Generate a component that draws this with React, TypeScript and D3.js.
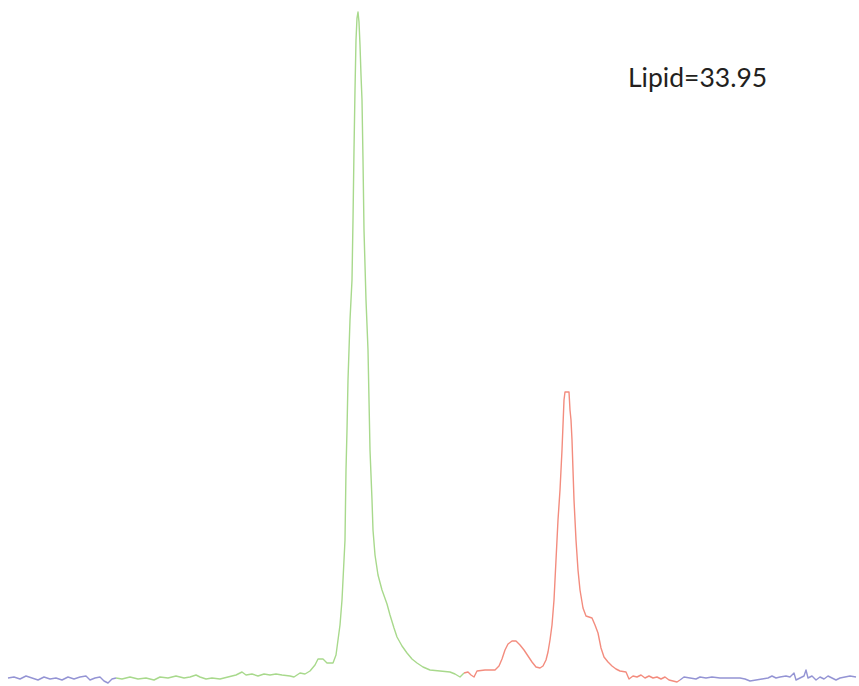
import React from "react";
import * as d3 from "d3";

// Spectrum segments: [channel, intensity]
const blueLeft: [number, number][] = [
  [8, 2], [14, 3], [20, 1], [26, 4], [32, 2], [38, 0], [44, 3], [50, 1], [56, 2], [62, 0],
  [68, 3], [74, 1], [80, 3], [86, 4], [90, 0], [95, 2], [100, 3], [104, -1], [108, -3], [112, 1], [116, 2],
];
const greenPeak: [number, number][] = [
  [116, 2], [122, 1], [130, 3], [138, 1], [146, 2], [154, 0], [160, 3], [168, 2], [176, 4], [184, 2],
  [190, 3], [196, 5], [200, 3], [206, 1], [212, 2], [220, 1], [228, 3], [236, 5], [242, 8], [246, 5],
  [252, 6], [258, 4], [264, 6], [270, 5], [276, 6], [282, 5], [290, 4], [294, 3], [300, 7], [305, 6],
  [310, 9], [315, 15], [318, 21], [323, 21], [327, 17], [333, 17], [336, 25], [338, 40], [340, 55],
  [342, 80], [344, 120], [345, 140], [346, 210], [347, 250], [348, 300], [350, 360], [352, 400],
  [353, 460], [354, 530], [355, 590], [356, 640], [357, 662], [358, 668], [359, 658], [360, 635],
  [361, 605], [362, 580], [363, 520], [364, 450], [366, 380], [368, 330], [369, 280], [370, 230],
  [372, 180], [373, 150], [375, 125], [378, 105], [382, 90], [387, 76], [390, 65], [394, 52],
  [397, 43], [402, 34], [407, 27], [412, 21], [417, 17], [423, 13], [430, 10], [440, 9], [450, 8],
  [455, 6], [460, 3], [464, 7],
];
const redPeaks: [number, number][] = [
  [464, 7], [468, 8], [471, 5], [474, 3], [477, 9], [485, 10], [495, 10], [499, 14], [502, 21],
  [505, 30], [508, 36], [512, 39], [516, 39], [520, 35], [524, 30], [528, 24], [532, 18], [536, 13],
  [540, 12], [543, 14], [546, 20], [548, 28], [550, 40], [552, 55], [554, 80], [556, 120], [558, 160],
  [560, 190], [562, 230], [563, 255], [564, 280], [565, 288], [569, 288], [570, 270], [571, 260],
  [572, 240], [573, 210], [574, 180], [576, 140], [578, 110], [580, 90], [583, 72], [586, 64],
  [592, 62], [595, 55], [598, 47], [601, 32], [604, 23], [608, 18], [612, 14], [616, 11], [620, 9],
  [626, 8], [629, 1], [633, 4], [637, 3], [641, 5], [645, 2], [649, 4], [653, 2], [657, 3], [661, 1],
  [665, 3], [669, 0], [673, -1], [677, -2], [680, 0],
];
const blueRight: [number, number][] = [
  [680, 0], [684, 3], [690, 2], [696, 1], [700, 3], [706, 2], [712, 3], [720, 2], [730, 2], [740, 2],
  [745, 1], [750, -1], [756, 0], [762, 1], [768, 2], [772, 4], [776, 2], [780, 3], [786, 4], [790, 3],
  [794, 7], [796, 0], [800, 2], [804, 4], [806, 10], [808, 2], [812, 4], [816, 0], [820, 3], [824, 1],
  [828, 4], [832, 2], [836, 0], [840, 2], [845, 3], [850, 4], [856, 3],
];

const labelText = "Lipid=33.95";

const W = 859;
const H = 686;

export default function App() {
  const x = d3.scaleLinear().domain([0, 859]).range([0, W]);
  const y = d3.scaleLinear().domain([0, 680]).range([680, 0]);
  const line = d3
    .line<[number, number]>()
    .x((d) => x(d[0]))
    .y((d) => y(d[1]));

  const segs: { data: [number, number][]; color: string }[] = [
    { data: blueLeft, color: "#9494d4" },
    { data: greenPeak, color: "#a8d98c" },
    { data: redPeaks, color: "#f38c7e" },
    { data: blueRight, color: "#9494d4" },
  ];

  return (
    <svg
      width={W}
      height={H}
      style={{ position: "absolute", left: 0, top: 0, background: "#fff" }}
    >
      {segs.map((s, i) => (
        <path
          key={i}
          d={line(s.data) || ""}
          fill="none"
          stroke={s.color}
          strokeWidth={1.4}
          strokeLinejoin="round"
        />
      ))}
      <text
        x={628}
        y={87}
        fontFamily="Lato, 'Open Sans', sans-serif"
        fontSize={26.5}
        fill="#231f20"
      >
        {labelText}
      </text>
    </svg>
  );
}
